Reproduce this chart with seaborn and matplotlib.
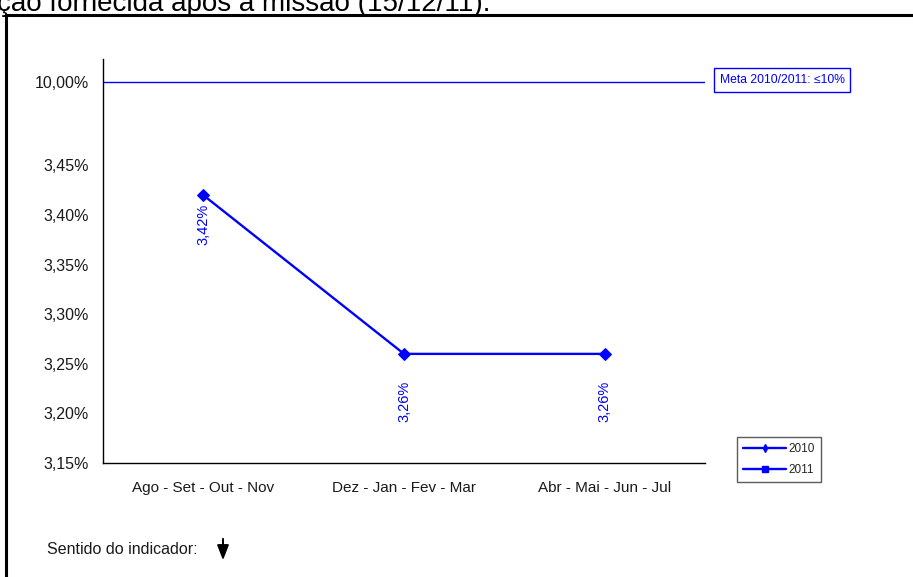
import numpy as np
import pandas as pd
import matplotlib
matplotlib.use("Agg")
import matplotlib.pyplot as plt
from matplotlib.lines import Line2D
from matplotlib.patches import FancyArrowPatch
import seaborn as sns

# ---- data ----
periods = ["Ago - Set - Out - Nov", "Dez - Jan - Fev - Mar", "Abr - Mai - Jun - Jul"]
values_2010 = [3.42, 3.26, 3.26]
value_labels = ["3,42%", "3,26%", "3,26%"]
meta_value = 10.0
y_ticks = [3.15, 3.20, 3.25, 3.30, 3.35, 3.40, 3.45, 10.0]
y_tick_labels = ["3,15%", "3,20%", "3,25%", "3,30%", "3,35%", "3,40%", "3,45%", "10,00%"]
legend_labels = ["2010", "2011"]
meta_text = "Meta 2010/2011: \u226410%"

sns.set_theme(style="white")
plt.rcParams["font.family"] = ["Liberation Sans", "DejaVu Sans"]

W, H = 913, 577
fig = plt.figure(figsize=(W / 100, H / 100), dpi=100)

def fx(px):
    return px / W

def fy(py):
    return 1 - py / H

ax = fig.add_axes([fx(103), fy(463), fx(705) - fx(103), fy(59) - fy(463)])

# broken-like scale: linear up to 3.45, compressed above
BR = 3.45
K = 0.0838 / (meta_value - BR)

def fwd(y):
    y = np.asarray(y, dtype=float)
    return np.where(y <= BR, y, BR + (y - BR) * K)

def inv(y):
    y = np.asarray(y, dtype=float)
    return np.where(y <= BR, y, BR + (y - BR) / K)

ax.set_yscale("function", functions=(fwd, inv))

df = pd.DataFrame({"period": periods, "value": values_2010})
blue = "#0000FF"
sns.lineplot(data=df, x="period", y="value", ax=ax, color=blue, lw=1.7,
             marker="D", markersize=6, markeredgecolor=blue, sort=False)

ax.axhline(meta_value, color=blue, lw=1.0)

top_t = 3.15 + 404 * 0.05 / 49.6
ax.set_ylim(3.15, float(inv(top_t)))
ax.set_xlim(-0.5, 2.5)

ax.set_yticks(y_ticks)
ax.set_yticklabels(y_tick_labels)
ax.set_xticks([-0.5, 0.5, 1.5, 2.5])
ax.set_xticklabels([])
ax.set_xticks([0, 1, 2], minor=True)
ax.set_xticklabels(periods, minor=True)
ax.tick_params(axis="x", which="major", length=4, width=1, color="black", direction="out")
ax.tick_params(axis="x", which="minor", length=0, pad=13, labelsize=11, labelcolor="#1a1a1a")
ax.tick_params(axis="y", length=4, width=1, color="black", direction="out", labelsize=11.5,
               labelcolor="#1a1a1a", pad=6)
ax.set_xlabel("")
ax.set_ylabel("")
for s in ["top", "right"]:
    ax.spines[s].set_visible(False)
for s in ["left", "bottom"]:
    ax.spines[s].set_color("black")
    ax.spines[s].set_linewidth(1.0)
ax.grid(False)

# data labels
offsets = [-29, -47, -47]
for i, (v, lab, off) in enumerate(zip(values_2010, value_labels, offsets)):
    ax.annotate(lab, (i, v), xytext=(0, off * 0.72), textcoords="offset points",
                rotation=90, ha="center", va="center", color=blue, fontsize=10.5)

# meta box
fig.text(fx(782), fy(80), meta_text, ha="center", va="center", fontsize=8.7, color=blue,
         bbox=dict(boxstyle="square,pad=0.5", fc="white", ec=blue, lw=1.0))

# legend
handles = [Line2D([], [], color=blue, lw=1.7, marker="d", markersize=4),
           Line2D([], [], color=blue, lw=1.7, marker="s", markersize=5)]
leg = fig.legend(handles, legend_labels, loc="center", bbox_to_anchor=(fx(779), fy(459.5)),
                 fontsize=8.5, frameon=True, fancybox=False, edgecolor="#333333",
                 handlelength=3.6, handletextpad=0.2, borderpad=0.55, labelspacing=0.75,
                 borderaxespad=0)
leg.get_frame().set_linewidth(1.0)

# outer frame
fig.add_artist(Line2D([fx(6), fx(6)], [fy(15), -0.1], color="black", lw=2.2,
                      transform=fig.transFigure))
fig.add_artist(Line2D([fx(6), 1.1], [fy(15), fy(15)], color="black", lw=2.2,
                      transform=fig.transFigure))

# cut-off header text
fig.text(fx(-3), fy(11), "ção fornecida após a missão (15/12/11).", ha="left",
         va="baseline", fontsize=20, color="black")

# bottom note
fig.text(fx(47), fy(550), "Sentido do indicador:", ha="left", va="center", fontsize=11.5,
         color="#1a1a1a")
fig.add_artist(FancyArrowPatch(
    (fx(223), fy(536)), (fx(223), fy(563)), transform=fig.transFigure,
    arrowstyle="-|>,head_length=9,head_width=3.5", color="black", lw=1.4,
    mutation_scale=1))

fig.savefig("out.png", dpi=100)
